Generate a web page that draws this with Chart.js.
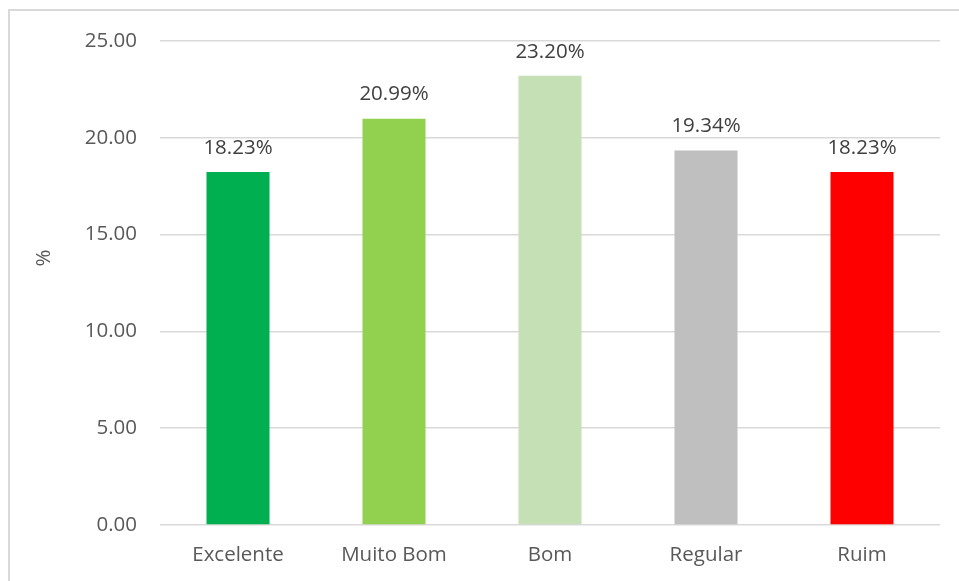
<!DOCTYPE html>
<html>
<head>
<meta charset="utf-8">
<script src="https://cdn.jsdelivr.net/npm/chart.js@4"></script>
<style>
  html, body { margin: 0; padding: 0; background: #fff; }
  #wrap { position: relative; width: 959px; height: 581px; }
  #frame { position: absolute; left: 8px; top: 9px; right: -2px; bottom: -2px;
           border-top: 2px solid #d9d9d9; border-left: 2px solid #d9d9d9; }
  canvas { position: absolute; left: 0; top: 0; }
</style>
</head>
<body>
<div id="wrap">
  <div id="frame"></div>
  <canvas id="myChart" width="959" height="581"></canvas>
</div>
<script>
const categorias = ['Excelente', 'Muito Bom', 'Bom', 'Regular', 'Ruim'];
const valores = [18.23, 20.99, 23.20, 19.34, 18.23];
const cores = ['#00B050', '#92D050', '#C5E0B4', '#BFBFBF', '#FF0000'];

// rotulos acima das barras + titulo do eixo y
const rotulos = {
    id: 'rotulos',
    afterDatasetsDraw(chart) {
        const ctx = chart.ctx;
        const meta = chart.getDatasetMeta(0);
        ctx.save();
        ctx.font = '20.5px "Open Sans"';
        ctx.fillStyle = '#404040';
        ctx.textAlign = 'center';
        ctx.textBaseline = 'middle';
        meta.data.forEach((bar, i) => {
            ctx.fillText(valores[i].toFixed(2) + '%', bar.x, bar.y - 24);
        });
        // "%" girado, um pouco acima do centro como no Excel
        ctx.fillStyle = '#595959';
        ctx.translate(44, chart.chartArea.top + 217);
        ctx.rotate(-Math.PI / 2);
        ctx.fillText('%', 0, 0);
        ctx.restore();
    }
};

const ctx = document.getElementById('myChart').getContext('2d');

new Chart(ctx, {
    type: 'bar',
    data: {
        labels: categorias,
        datasets: [{
            data: valores,
            backgroundColor: cores,
            barPercentage: 0.404,
            categoryPercentage: 1.0
        }]
    },
    options: {
        responsive: false,
        animation: false,
        layout: { padding: { top: 41, right: 19, bottom: 0, left: 30 } },
        plugins: {
            legend: { display: false },
            tooltip: { enabled: false }
        },
        scales: {
            x: {
                grid: { display: false },
                border: { display: false },
                ticks: { color: '#595959', font: { family: 'Open Sans', size: 20.5 }, padding: 10 },
                afterFit(scale) { scale.height = 56; }
            },
            y: {
                min: 0,
                max: 25,
                grid: { color: '#d9d9d9', lineWidth: 1.5, drawTicks: false },
                border: { display: false },
                ticks: {
                    stepSize: 5,
                    color: '#595959',
                    padding: 23,
                    font: { family: 'Open Sans', size: 20.5 },
                    callback: v => v.toFixed(2)
                },
                afterFit(scale) { scale.width = 130; }
            }
        }
    },
    plugins: [rotulos]
});
</script>
</body>
</html>
